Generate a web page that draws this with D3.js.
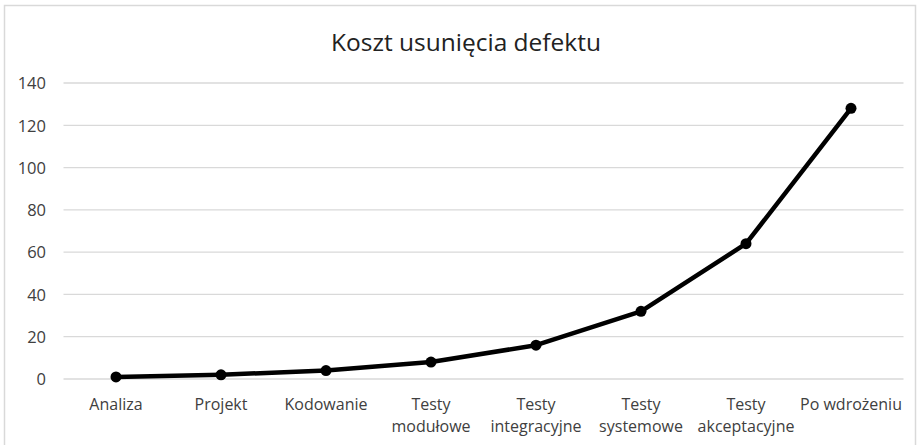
<!DOCTYPE html>
<html><head><meta charset="utf-8">
<script src="https://cdn.jsdelivr.net/npm/d3@7"></script>
<style>body{margin:0;background:#fff}svg{display:block}</style>
</head><body>
<svg id="c" width="921" height="445"></svg>
<script>
const title = "Koszt usunięcia defektu";
const categories = [["Analiza"],["Projekt"],["Kodowanie"],["Testy","modułowe"],["Testy","integracyjne"],["Testy","systemowe"],["Testy","akceptacyjne"],["Po wdrożeniu"]];
const values = [1, 2, 4, 8, 16, 32, 64, 128];
const yTicks = [0, 20, 40, 60, 80, 100, 120, 140];

const svg = d3.select("#c");
const font = "'Open Sans', sans-serif";
svg.append("rect").attr("x",4.5).attr("y",5.5).attr("width",911).attr("height",445).attr("fill","#fff").attr("stroke","#d9d9d9").attr("stroke-width",1.5);

const x = d3.scaleBand().domain(d3.range(categories.length)).range([63.5, 903.5]);
const y = d3.scaleLinear().domain([0, 140]).range([379, 83]);

svg.append("text").attr("x",466).attr("y",51).attr("text-anchor","middle")
  .attr("font-family",font).attr("font-size",24.5).attr("fill","#222").text(title);

const g = svg.append("g");
g.selectAll("line.grid").data(yTicks).join("line").attr("class","grid")
  .attr("x1",63.5).attr("x2",903.5).attr("y1",d=>y(d)).attr("y2",d=>y(d))
  .attr("stroke","#d9d9d9").attr("stroke-width",1.3);

const yAxis = d3.axisLeft(y).tickValues(yTicks).tickSize(0).tickPadding(0);
const ya = svg.append("g").attr("transform","translate(46,0)").call(yAxis);
ya.select(".domain").remove();
ya.selectAll("text").attr("font-family",font).attr("font-size",16.5).attr("fill","#404040").attr("dy","0.35em");

const xAxis = d3.axisBottom(x).tickSize(0).tickFormat(()=> "");
const xa = svg.append("g").attr("transform","translate(0,379)").call(xAxis);
xa.select(".domain").remove();
xa.selectAll(".tick").each(function(d){
  const t = d3.select(this).append("text").attr("font-family",font).attr("font-size",16)
    .attr("fill","#404040").attr("text-anchor","middle").attr("y",31);
  categories[d].forEach((s,i)=>t.append("tspan").attr("x",0).attr("dy", i===0?0:22).text(s));
});

const cx = i => x(i) + x.bandwidth()/2;
const line = d3.line().x((d,i)=>cx(i)).y(d=>y(d));
svg.append("path").datum(values).attr("d",line).attr("fill","none")
  .attr("stroke","#000").attr("stroke-width",4.5).attr("stroke-linejoin","round");
svg.selectAll("circle.pt").data(values).join("circle").attr("class","pt")
  .attr("cx",(d,i)=>cx(i)).attr("cy",d=>y(d)).attr("r",5.5).attr("fill","#000");
</script>
</body></html>
